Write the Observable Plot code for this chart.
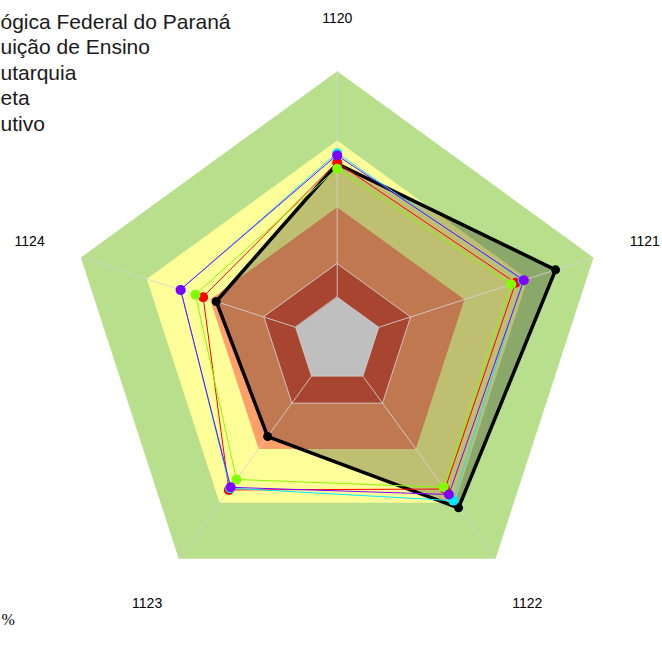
<!DOCTYPE html>
<html><head><meta charset="utf-8">
<script src="https://cdn.jsdelivr.net/npm/d3@7"></script>
<script src="https://cdn.jsdelivr.net/npm/@observablehq/plot@0.6"></script>
<style>html,body{margin:0;padding:0;background:#fff;overflow:hidden}</style>
</head><body><div id="chart"></div>
<script>
// ---- data ----
const axes = ["1120", "1121", "1122", "1123", "1124"];
const legendLabels = ["ógica Federal do Paraná", "uição de Ensino", "utarquia", "eta", "utivo"];
const seriesNames = ["Universidade Tecnológica Federal do Paraná", "Instituição de Ensino", "Autarquia", "Direta", "Executivo"];
const seriesColors = ["#000000", "#8000ff", "#00e8ff", "#ff0000", "#80ff00"];
const valuesS1 = [65.7, 85.2, 76.6, 43.9, 47.2];
const valuesS2 = [68.8, 72.8, 70.5, 67.2, 61.1];
const valuesS3 = [69.6, 72.4, 73.3, 67.6, 61.0];
const valuesS4 = [66.1, 69.6, 68.0, 68.4, 52.3];
const valuesS5 = [63.8, 67.9, 67.2, 63.6, 55.3];
const bandLimits = [16.2, 28.6, 49.6, 74.3, 100];
const bandColors = ["#ffffff", "#e05c40", "#ffa06a", "#ffff99", "#b8e08c"];
const unitLabel = "%";

// ---- layout ----
const W = 662, H = 668, CX = 336.7, CY = 340.3, R = 269.5;
const ang = k => 2 * Math.PI * k / axes.length;
const px = (v, k) => v / 100 * Math.sin(ang(k));
const py = (v, k) => v / 100 * Math.cos(ang(k));

const allValues = [valuesS1, valuesS2, valuesS3, valuesS4, valuesS5];
const rows = [];
allValues.forEach((vals, s) => vals.forEach((v, k) => rows.push({series: seriesNames[s], axis: axes[k], k, v, x: px(v, k), y: py(v, k)})));

const marks = [];
// bands, outer to inner
for (let b = bandLimits.length - 1; b >= 0; b--) {
  const pts = axes.map((a, k) => ({x: px(bandLimits[b], k), y: py(bandLimits[b], k)}));
  marks.push(Plot.line(pts, {x: "x", y: "y", curve: "linear-closed", fill: bandColors[b], stroke: "none"}));
}
// translucent fill of the main series
const main = rows.filter(d => d.series === seriesNames[0]);
marks.push(Plot.line(main, {x: "x", y: "y", curve: "linear-closed", fill: "#000", fillOpacity: 0.25, stroke: "none"}));
// spokes
marks.push(Plot.link(axes, {
  x1: (d, k) => px(bandLimits[0], k), y1: (d, k) => py(bandLimits[0], k),
  x2: (d, k) => px(100, k), y2: (d, k) => py(100, k),
  stroke: "#d4d4d4", strokeWidth: 1, strokeOpacity: 0.85
}));
// inner grid pentagons
[bandLimits[0], bandLimits[1]].forEach(lim => {
  const pts = axes.map((a, k) => ({x: px(lim, k), y: py(lim, k)}));
  marks.push(Plot.line(pts, {x: "x", y: "y", curve: "linear-closed", stroke: "#d4d4d4", strokeWidth: 1, strokeOpacity: 0.85}));
});
// series lines + dots
const order = [0, 3, 4, 2, 1];
order.forEach(s => {
  const data = rows.filter(d => d.series === seriesNames[s]);
  const isMain = s === 0;
  marks.push(Plot.line(data, {x: "x", y: "y", stroke: "series", curve: "linear-closed", strokeWidth: isMain ? 3.5 : 1, strokeLinejoin: "round"}));
  marks.push(Plot.dot(data, {x: "x", y: "y", fill: "series", r: isMain ? 4.5 : 5, stroke: "none"}));
});
// axis labels
marks.push(Plot.text(axes, {
  x: (d, k) => px(120, k), y: (d, k) => py(120, k), text: d => d,
  fontSize: 14, fontFamily: "Liberation Sans, Arial, sans-serif", fill: "#000", lineAnchor: "middle", textAnchor: "middle", dy: 1
}));
// legend text (cut at the left edge as in the original)
marks.push(Plot.text([legendLabels.join("\n")], {
  frameAnchor: "top-left", textAnchor: "start", lineAnchor: "top", lineHeight: 1.215,
  fontSize: 21, fontFamily: "Liberation Sans, Arial, sans-serif", fill: "#1a1a1a", dx: 0, dy: 10
}));
// unit label
marks.push(Plot.text([unitLabel], {
  frameAnchor: "bottom-left", textAnchor: "start", lineAnchor: "bottom",
  fontSize: 16, fontFamily: "Liberation Serif, Times New Roman, serif", fill: "#000", dx: 1, dy: -44
}));

const chart = Plot.plot({
  width: W, height: H, margin: 0,
  x: {domain: [-CX / R, (W - CX) / R], axis: null},
  y: {domain: [-(H - CY) / R, CY / R], axis: null},
  color: {domain: seriesNames, range: seriesColors},
  style: {background: "#fff"},
  marks
});
document.getElementById("chart").appendChild(chart);
</script>
</body></html>
